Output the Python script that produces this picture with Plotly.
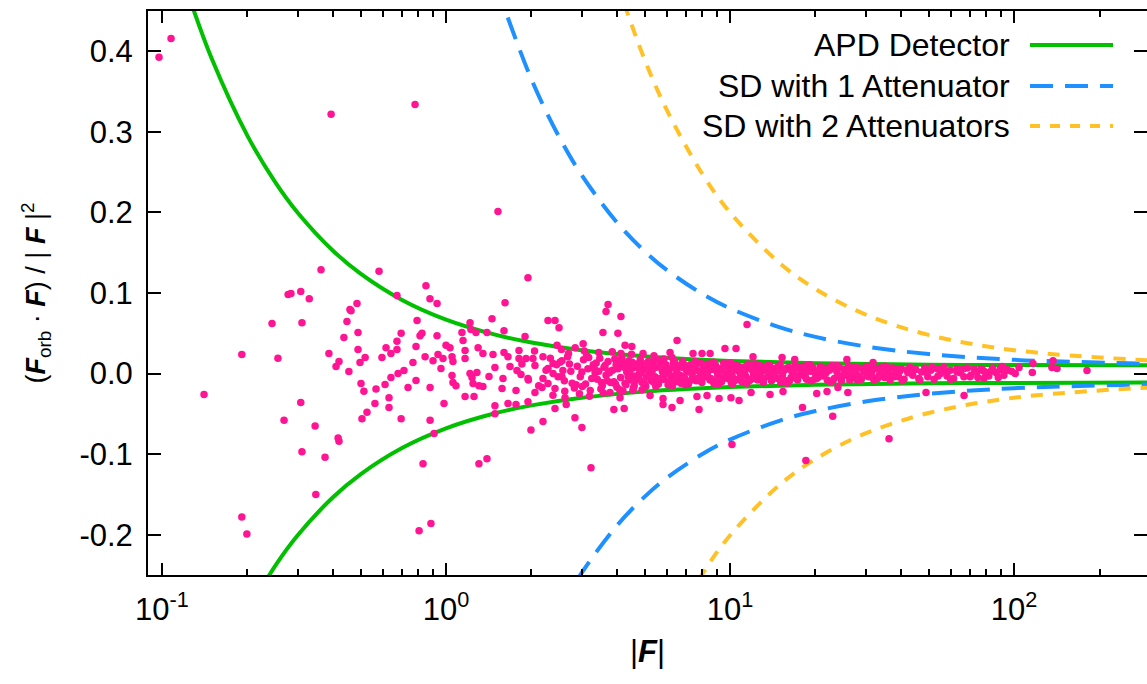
import plotly.graph_objects as go

# ---------------- model curves ----------------
apd_x = [0.125, 0.15, 0.2, 0.25, 0.3, 0.4, 0.5, 0.7, 1, 1.5, 2, 3, 5, 7, 10, 20, 50, 100, 300]
apd_hi = [0.466, 0.39, 0.295, 0.238, 0.2, 0.1525, 0.124, 0.0914, 0.067, 0.048, 0.0385, 0.029,
          0.0214, 0.0181, 0.0157, 0.0129, 0.0111, 0.0106, 0.0102]
apd_lo_x = [0.2, 0.25, 0.3, 0.4, 0.5, 0.7, 1, 1.5, 2, 3, 5, 7, 10, 20, 50, 100, 300]
apd_lo = [-0.296, -0.239, -0.201, -0.1535, -0.125, -0.0924, -0.068, -0.049, -0.0395, -0.030,
          -0.0224, -0.0191, -0.0167, -0.0139, -0.0121, -0.0116, -0.0112]

sd1_x = [1.5, 2, 2.5, 3, 4, 5, 6, 8, 10, 15, 20, 30, 50, 100, 300]
sd1_hi = [0.483, 0.365, 0.294, 0.2467, 0.1875, 0.152, 0.1283, 0.0988, 0.081, 0.0573, 0.0455,
          0.0337, 0.0242, 0.0171, 0.0124]
sd1_lo_x = [2.5, 3, 4, 5, 6, 8, 10, 15, 20, 30, 50, 100, 300]
sd1_lo = [-0.295, -0.2477, -0.1885, -0.153, -0.1293, -0.0998, -0.082, -0.0583, -0.0465,
          -0.0347, -0.0252, -0.0181, -0.0134]

sd2_x = [4, 5, 6, 8, 10, 15, 20, 30, 50, 100, 300]
sd2_hi = [0.485, 0.39, 0.3267, 0.2475, 0.2, 0.1367, 0.105, 0.0733, 0.048, 0.029, 0.0163]
sd2_lo_x = [6, 8, 10, 15, 20, 30, 50, 100, 300]
sd2_lo = [-0.3277, -0.2485, -0.201, -0.1377, -0.106, -0.0743, -0.049, -0.030, -0.0173]

# ---------------- measured points: |F| and (F_orb . F)/|F|^2 ----------------
far_F = [0.0976, 0.1076, 0.394, 0.778, 0.363, 0.278, 0.2845, 0.308, 0.330, 0.581,
         0.672, 0.850, 0.878, 0.930, 0.459, 0.486, 1.524, 1.944, 1.614, 3.72,
         0.1406, 0.191, 0.244, 0.311, 0.256, 0.308, 0.269, 0.346, 0.311, 0.375,
         0.417, 0.420, 0.348, 0.191, 0.199, 0.804, 0.885, 0.830, 0.908, 1.306,
         1.394, 1.991, 2.195, 2.286, 2.42, 2.50, 3.01, 3.24, 3.66, 4.13,
         10.16, 11.48, 36.3, 18.0, 23.0, 18.5, 2.845, 6.51]
far_ratio = [0.3925, 0.416, 0.322, 0.334, 0.129, 0.098, 0.0994, 0.102, 0.093, 0.127,
             0.097, 0.109, 0.093, 0.087, 0.0795, 0.087, 0.201, 0.119, 0.088, 0.0857,
             -0.026, 0.0236, 0.062, 0.063, 0.019, -0.036, -0.058, -0.065, -0.097, -0.104,
             -0.080, -0.084, -0.150, -0.178, -0.199, -0.195, -0.186, -0.112, -0.0745, -0.112,
             -0.1056, -0.070, -0.0596, 0.066, 0.066, 0.057, -0.067, -0.1168, 0.077, 0.0708,
             -0.088, 0.061, -0.081, -0.042, -0.053, -0.108, -0.0547, 0.041]

mid_F = [0.387, 0.420, 0.410, 0.455, 0.437, 0.448, 0.463, 0.490, 0.490, 0.498,
         0.519, 0.502, 0.514, 0.527, 0.506, 0.567, 0.562, 0.630, 0.630, 0.610,
         0.640, 0.678, 0.711, 0.695, 0.735, 0.784, 0.765, 0.879, 0.879, 0.984,
         0.595, 0.615, 0.640, 0.672, 0.672, 0.695, 0.784, 0.810, 0.823, 0.791,
         0.844, 0.900, 0.930, 0.937, 0.976, 1.0, 0.960, 1.033, 1.05, 1.058,
         1.05, 1.058, 1.084, 1.148, 1.167, 1.167, 1.138, 1.215, 1.224, 1.275,
         1.394, 1.452, 1.600, 1.297, 1.349, 1.464, 1.215, 1.235, 1.285, 1.245,
         1.255, 1.167, 1.306, 1.349, 1.417, 1.487, 1.575, 1.487, 1.487, 1.587,
         1.600, 1.653, 1.653, 1.764, 1.764, 1.807, 1.807, 1.680, 1.778, 1.837,
         1.913, 1.898, 1.944, 1.944, 2.024, 2.057, 2.057, 2.195, 2.195, 2.178,
         2.286, 2.286, 2.382, 2.382, 2.42, 2.46, 2.56, 2.58, 2.625, 2.65,
         2.42, 3.04, 3.57, 4.03, 3.90, 4.24, 4.27, 4.51]
mid_ratio = [0.025, 0.015, 0.0087, 0.0025, 0.0447, 0.0646, 0.078, 0.051, 0.030, 0.0137,
             0.0199, -0.0124, -0.022, -0.048, -0.056, -0.019, -0.037, -0.030, -0.042, -0.0137,
             -0.005, 0.000, 0.0037, -0.056, -0.0174, -0.0087, 0.0137, -0.0174, -0.058, -0.037,
             0.020, 0.032, 0.025, 0.030, 0.040, 0.050, 0.0335, 0.047, 0.050, 0.066,
             0.021, 0.016, 0.047, 0.0236, 0.0186, 0.035, 0.0062, 0.032, 0.021, 0.0149,
             -0.0025, -0.011, -0.015, 0.041, 0.0286, 0.0186, 0.051, 0.063, 0.0547, 0.051,
             0.051, 0.068, 0.053, 0.032, 0.025, 0.0236, 0.000, -0.005, 0.0012, -0.0124,
             -0.0286, -0.0286, -0.015, -0.016, -0.0037, 0.0075, -0.0186, -0.040, -0.050, -0.0062,
             0.026, 0.021, -0.037, -0.0385, -0.021, 0.0286, 0.0186, 0.0087, 0.0037, -0.0012,
             0.0186, 0.046, -0.0062, -0.035, 0.0186, 0.010, -0.0236, 0.021, -0.0062, -0.0174,
             0.0062, -0.0124, 0.0124, 0.000, -0.0186, 0.035, 0.016, 0.0037, -0.030, -0.0385,
             -0.0435, 0.037, 0.051, 0.050, -0.0447, -0.0435, 0.035, 0.0335]

edge_F = [6.15, 6.25, 4.94, 7.41, 7.97, 8.51, 9.60, 10.5, 12.05, 15.25,
          16.9, 25.8, 31.9, 4.13, 5.81, 5.81, 6.25, 6.67, 7.78, 7.65,
          8.30, 9.15, 10.08, 10.76, 11.86, 13.83, 15.37, 20.2, 21.96, 23.99,
          26.0, 5.23, 4.55, 4.10, 3.78, 49.0, 66.7]
edge_ratio = [0.026, 0.020, 0.025, 0.025, 0.025, 0.025, 0.031, 0.031, 0.021, 0.020,
              0.0174, 0.0174, 0.0137, 0.025, -0.031, -0.0385, -0.042, -0.0335, -0.0447, -0.0286,
              -0.0273, -0.031, -0.030, -0.0335, -0.0236, -0.026, -0.0224, -0.0248, -0.0224, -0.0174,
              -0.0236, -0.0273, -0.021, -0.030, -0.0236, -0.0236, -0.0273]

tail_F = [77.8, 90.7, 101.0, 104.2, 116.6, 116.0, 137.2, 136.0, 141.7, 180.7]
tail_ratio = [0.0037, 0.0087, 0.000, 0.0075, 0.0124, 0.0012, 0.016, 0.0075, 0.0062, 0.0037]

fill_F = [1.85, 1.95, 2.05, 2.12, 2.25, 2.33, 2.38, 2.45, 2.48, 2.55, 2.62, 2.7,
          2.78, 2.85, 2.95, 3.07, 3.2, 3.45, 3.58, 3.85, 4.2, 4.5, 4.9, 5.4]
fill_ratio = [0.012, -0.008, 0.028, -0.015, 0.004, 0.019, -0.027, 0.011, -0.004, 0.030, -0.022, 0.025,
              -0.012, 0.032, -0.025, 0.028, -0.028, 0.026, -0.024, 0.027, -0.022, 0.024, -0.020, 0.022]

bandA_F = [2.52, 2.61, 2.68, 2.75, 2.83, 2.9, 2.97, 3.05, 3.1, 3.16,
           3.22, 3.3, 3.35, 3.41, 3.48, 3.55, 3.6, 3.66, 3.72, 3.8,
           3.86, 3.93, 4.0, 4.06, 4.12, 4.2, 4.27, 4.33, 4.4, 4.48,
           4.55, 4.6, 4.68, 4.75, 4.83, 4.9, 4.97, 5.05, 5.12, 5.2,
           5.28, 5.35, 5.44, 5.52, 5.6, 5.7, 5.78, 5.86, 5.95, 6.05,
           6.14, 6.22, 6.32, 6.42, 6.5, 6.62, 6.71, 6.82, 6.93, 7.02,
           7.14, 7.25, 7.36, 7.48, 7.6, 7.71, 7.84, 7.96, 8.1, 8.22,
           8.35, 8.5, 8.63, 8.77, 8.9, 9.05, 9.2, 9.34, 9.5, 9.66,
           9.8, 9.97, 10.1, 10.3, 10.45, 10.6, 10.8, 11.0, 11.15, 11.35,
           11.5, 11.7, 11.9, 12.1, 12.3, 12.5, 12.7, 12.9, 13.1, 13.35,
           13.55, 13.8, 14.0, 14.25, 14.5, 14.75, 15.0, 15.3, 15.55, 15.8,
           16.1, 16.4, 16.7, 17.0, 17.3, 17.6, 17.9, 18.2, 18.6, 18.9,
           19.3, 19.6, 20.0, 20.4, 20.8, 21.2, 21.6, 22.0, 22.4, 22.9,
           23.3, 23.8, 24.2, 24.7, 25.2, 25.7, 26.2, 26.7, 27.3, 27.8,
           28.4, 29.0, 29.6, 30.2, 30.8, 31.5, 32.1, 32.8, 33.5, 34.2,
           35.0, 35.8, 36.6, 37.4, 38.3, 39.2, 40.1, 41.0, 42.0, 43.0,
           44.0, 45.1, 46.2, 47.3, 48.5, 49.7, 51.0, 52.3, 53.7, 55.1,
           56.6, 58.1, 59.7, 61.3, 63.0, 64.8, 66.6, 68.5, 70.5, 72.5,
           74.6, 76.8, 79.1, 81.5, 84.0, 86.6, 89.3, 92.1, 95.0]
bandA_ratio = [0.014, -0.009, 0.021, 0.003, -0.018, 0.009, -0.004, 0.017, -0.013, 0.006,
               -0.021, 0.011, 0.001, -0.007, 0.019, -0.015, 0.008, -0.002, 0.015, -0.011,
               0.004, 0.018, -0.017, 0.009, -0.005, 0.013, -0.012, 0.002, 0.016, -0.008,
               0.007, -0.015, 0.012, -0.002, 0.017, -0.011, 0.005, -0.016, 0.010, 0.000,
               -0.009, 0.014, -0.004, 0.008, -0.013, 0.016, 0.003, -0.007, 0.011, -0.014,
               0.006, -0.003, 0.013, -0.010, 0.001, 0.009, -0.012, 0.015, -0.006, 0.004,
               -0.013, 0.011, -0.001, 0.007, -0.009, 0.013, 0.002, -0.011, 0.008, -0.004,
               0.012, -0.008, 0.005, -0.012, 0.010, -0.002, 0.006, -0.010, 0.013, 0.001,
               -0.006, 0.009, -0.011, 0.004, 0.011, -0.007, 0.002, -0.010, 0.008, -0.003,
               0.010, -0.009, 0.005, -0.001, 0.012, -0.008, 0.003, 0.009, -0.011, 0.006,
               -0.004, 0.010, -0.009, 0.001, 0.007, -0.006, 0.011, -0.002, 0.004, -0.009,
               0.008, -0.005, 0.002, 0.010, -0.008, 0.005, -0.001, 0.009, -0.007, 0.003,
               -0.009, 0.007, 0.000, -0.005, 0.009, -0.003, 0.006, -0.008, 0.004, 0.010,
               -0.006, 0.002, 0.008, -0.009, 0.005, -0.002, 0.009, -0.006, 0.003, -0.001,
               0.007, -0.007, 0.004, 0.009, -0.004, 0.001, -0.008, 0.006, -0.002, 0.008,
               -0.005, 0.003, -0.008, 0.007, 0.000, -0.004, 0.006, -0.007, 0.004, 0.008,
               -0.002, 0.005, -0.006, 0.002, 0.007, -0.004, 0.004, -0.007, 0.006, 0.000,
               0.008, -0.003, 0.004, -0.006, 0.006, 0.001, -0.004, 0.007, -0.002, 0.005,
               -0.005, 0.006, 0.002, -0.003, 0.007, 0.001, 0.005, -0.002, 0.004]

bandB_F = [2.56, 2.72, 2.87, 3.01, 3.13, 3.26, 3.38, 3.51, 3.63, 3.76,
           3.9, 4.03, 4.16, 4.3, 4.44, 4.58, 4.72, 4.86, 5.0, 5.16,
           5.32, 5.48, 5.65, 5.82, 5.99, 6.18, 6.36, 6.56, 6.76, 6.98,
           7.2, 7.42, 7.66, 7.9, 8.16, 8.42, 8.7, 8.98, 9.27, 9.58,
           9.89, 10.2, 10.55, 10.9, 11.25, 11.6, 12.0, 12.4, 12.8, 13.25,
           13.7, 14.1, 14.6, 15.1, 15.65, 16.2, 16.8, 17.4, 18.0, 18.7,
           19.4, 20.2, 21.0, 21.8, 22.6, 23.5, 24.4, 25.4, 26.4, 27.5,
           28.7, 29.9, 31.1, 32.4, 33.8, 35.3, 36.9, 38.6, 40.4, 42.3,
           44.4, 46.6, 48.9, 51.4, 54.0, 56.8, 59.8, 63.0, 66.4, 70.0,
           74.0, 78.3, 83.0, 88.0, 93.5, 98.0]
bandB_ratio = [-0.004, 0.012, -0.014, 0.002, 0.022, -0.006, 0.013, -0.019, 0.010, 0.001,
               -0.010, 0.006, 0.020, -0.014, 0.004, -0.003, 0.009, 0.001, -0.012, 0.015,
               0.004, -0.016, 0.009, -0.001, 0.005, -0.008, 0.016, -0.005, 0.008, -0.014,
               0.009, -0.006, 0.004, 0.013, -0.002, 0.007, -0.009, 0.003, -0.005, 0.010,
               0.002, -0.013, 0.007, -0.004, 0.001, 0.012, -0.006, 0.007, -0.002, 0.004,
               0.011, -0.007, 0.003, -0.011, 0.006, -0.009, 0.007, -0.003, 0.004, 0.010,
               0.003, -0.006, 0.008, 0.001, -0.010, 0.006, -0.003, 0.004, -0.008, 0.008,
               -0.003, 0.002, 0.008, -0.006, 0.004, 0.009, -0.002, 0.005, -0.009, 0.001,
               0.006, -0.008, 0.002, 0.008, -0.003, 0.004, -0.007, 0.002, 0.006, -0.004,
               0.002, -0.006, 0.003, -0.005, 0.006, 0.003]

bandC_F = [3.45, 3.69, 3.97, 4.09, 4.24, 4.38, 4.52, 4.64, 4.79, 4.94,
           5.08, 5.24, 5.4, 5.56, 5.74, 5.9, 6.09, 6.27, 6.46, 6.67,
           6.87, 7.09, 7.31, 7.54, 7.78, 8.03, 8.29, 8.56, 8.84, 9.12,
           9.42, 9.74, 10.05, 10.38, 10.72, 11.08, 11.45, 11.82, 12.2, 12.6,
           13.0, 13.45, 13.9, 14.35, 14.85, 15.4, 15.9, 16.5, 17.1, 17.75,
           18.4, 19.1, 19.8, 20.6, 21.4, 22.2, 23.0, 23.9, 24.9, 25.9,
           27.0, 28.1, 29.3, 30.5, 31.8, 33.1, 34.6, 36.2, 37.8, 39.6]
bandC_ratio = [0.003, -0.009, 0.011, -0.020, 0.008, -0.004, 0.014, -0.009, -0.006, 0.012,
               -0.004, 0.008, -0.011, 0.017, -0.007, 0.010, 0.000, -0.015, 0.006, -0.002,
               0.011, 0.002, -0.008, 0.015, -0.005, 0.011, 0.003, -0.006, 0.008, -0.013,
               0.004, -0.004, 0.013, -0.009, 0.006, 0.001, -0.012, 0.009, -0.005, 0.011,
               -0.007, 0.008, 0.003, -0.004, 0.009, 0.005, -0.012, 0.003, -0.006, 0.008,
               -0.004, 0.011, -0.007, 0.004, -0.001, 0.007, -0.009, 0.010, -0.003, 0.006,
               0.002, -0.008, 0.006, -0.003, 0.008, -0.006, 0.001, 0.007, -0.004, 0.003]

bandD_F = [3.02, 3.18, 3.33, 3.53, 3.74, 3.95, 4.14, 4.35, 4.57, 4.8,
           5.03, 5.3, 5.57, 5.85, 6.15, 6.47, 6.8, 7.15, 7.52, 7.91,
           8.32, 8.75, 9.2, 9.68, 10.18, 10.7, 11.26, 11.84, 12.45, 13.1]
bandD_ratio = [-0.016, 0.020, 0.006, -0.011, 0.003, -0.013, 0.016, 0.010, -0.018, 0.005,
               0.012, 0.002, -0.006, 0.018, -0.011, 0.011, -0.004, 0.006, 0.010, -0.007,
               -0.001, 0.014, -0.007, 0.006, -0.003, 0.009, 0.004, -0.007, 0.002, -0.010]

groups = [(far_F, far_ratio), (mid_F, mid_ratio), (edge_F, edge_ratio), (tail_F, tail_ratio),
          (fill_F, fill_ratio), (bandA_F, bandA_ratio), (bandB_F, bandB_ratio),
          (bandC_F, bandC_ratio), (bandD_F, bandD_ratio)]
pts_F, pts_ratio = [], []
for gx, gy in groups:
    assert len(gx) == len(gy), (len(gx), len(gy))
    pts_F += gx
    pts_ratio += gy

# ---------------- axes ----------------
x_tickvals = [0.1, 1, 10, 100]
x_ticktext = ["10<sup>-1</sup>", "10<sup>0</sup>", "10<sup>1</sup>", "10<sup>2</sup>"]
x_minor = [0.2, 0.3, 0.4, 0.5, 0.6, 0.7, 0.8, 0.9, 2, 3, 4, 5, 6, 7, 8, 9,
           20, 30, 40, 50, 60, 70, 80, 90, 200]
y_tickvals = [-0.2, -0.1, 0.0, 0.1, 0.2, 0.3, 0.4]
y_ticktext = ["-0.2", "-0.1", "0.0", "0.1", "0.2", "0.3", "0.4"]
x_range = [-1.0493, 2.4683]   # log10 of |F| limits
y_range = [-0.25, 0.45]

legend_names = ["APD Detector", "SD with 1 Attenuator", "SD with 2 Attenuators"]

GREEN = "#00c000"
BLUE = "#1e90ff"
ORANGE = "#ffc125"
PINK = "#ff1493"
FONT = "Liberation Sans, Arial, Helvetica, sans-serif"

fig = go.Figure()

def curve(x, y, color, dash, name):
    fig.add_trace(go.Scatter(x=x, y=y, mode="lines", name=name, showlegend=False,
                             line=dict(color=color, width=4, dash=dash, shape="spline",
                                       smoothing=1.0),
                             hoverinfo="skip"))

curve(apd_x, apd_hi, GREEN, "solid", legend_names[0])
curve(apd_lo_x, apd_lo, GREEN, "solid", legend_names[0])
curve(sd1_x, sd1_hi, BLUE, "23px,12px", legend_names[1])
curve(sd1_lo_x, sd1_lo, BLUE, "23px,12px", legend_names[1])
curve(sd2_x, sd2_hi, ORANGE, "12px,10px", legend_names[2])
curve(sd2_lo_x, sd2_lo, ORANGE, "12px,10px", legend_names[2])

fig.add_trace(go.Scatter(x=pts_F, y=pts_ratio, mode="markers", showlegend=False,
                         marker=dict(color=PINK, size=7.5, line=dict(width=0))))

# helper trace so the mirrored (top/right) tick axes are drawn
fig.add_trace(go.Scatter(x=[apd_x[-1]], y=[apd_hi[-1]], xaxis="x2", yaxis="y2",
                         mode="markers", marker=dict(opacity=0), showlegend=False,
                         hoverinfo="skip"))

tickfont = dict(family=FONT, size=31, color="black")
minor_x = dict(tickvals=x_minor, ticks="inside", ticklen=6, tickwidth=1.5, tickcolor="black")

fig.update_layout(
    width=1147, height=684,
    margin=dict(l=148, r=0, t=11, b=109),
    paper_bgcolor="white", plot_bgcolor="white",
    font=dict(family=FONT, size=31, color="black"),
    showlegend=False,
    xaxis=dict(type="log", range=x_range, tickmode="array", tickvals=x_tickvals,
               ticktext=x_ticktext, ticks="inside", ticklen=12, tickwidth=1.5,
               tickcolor="black", minor=minor_x, showgrid=False, zeroline=False,
               showline=True, linecolor="black", linewidth=2, tickfont=tickfont,
               ticklabelstandoff=6,
               title=dict(text="|<b><i>F</i></b>|", font=dict(family=FONT, size=31),
                          standoff=14)),
    yaxis=dict(range=y_range, tickmode="array", tickvals=y_tickvals, ticktext=y_ticktext,
               ticks="inside", ticklen=13, tickwidth=1.5, tickcolor="black",
               showgrid=False, zeroline=False, showline=True, linecolor="black",
               linewidth=2, tickfont=tickfont, ticklabelstandoff=7,
               title=dict(text="(<b><i>F</i></b><sub>orb</sub> · <b><i>F</i></b>) / | <b><i>F</i></b> |<sup>2</sup>",
                          font=dict(family=FONT, size=27), standoff=26)),
    xaxis2=dict(type="log", range=x_range, overlaying="x", side="top", anchor="y2",
                tickmode="array", tickvals=x_tickvals, ticks="inside", ticklen=12,
                tickwidth=1.5, tickcolor="black", minor=minor_x, showticklabels=False,
                showgrid=False, zeroline=False, showline=True, linecolor="black",
                linewidth=2),
    yaxis2=dict(range=y_range, overlaying="y", side="right", anchor="x2",
                tickmode="array", tickvals=y_tickvals, ticks="inside", ticklen=13,
                tickwidth=1.5, tickcolor="black", showticklabels=False, showgrid=False,
                zeroline=False, showline=False),
)

# gnuplot-style key: text right-aligned, line sample to its right
key_y = [0.9397, 0.867, 0.796]
key_style = [(GREEN, "solid"), (BLUE, "23px,12px"), (ORANGE, "10px,10px")]
for name, ky, (col, dsh) in zip(legend_names, key_y, key_style):
    fig.add_annotation(x=0.8649, y=ky, xref="paper", yref="paper", text=name,
                       showarrow=False, xanchor="right", yanchor="middle",
                       font=dict(family=FONT, size=32, color="black"))
    fig.add_shape(type="line", xref="paper", yref="paper", x0=0.8829, x1=0.9660,
                  y0=ky, y1=ky, line=dict(color=col, width=4, dash=dsh))

fig.write_html("out.html", config={"displayModeBar": False},
               post_script="document.body.style.margin='0';"
                           "document.body.style.overflow='hidden';")
